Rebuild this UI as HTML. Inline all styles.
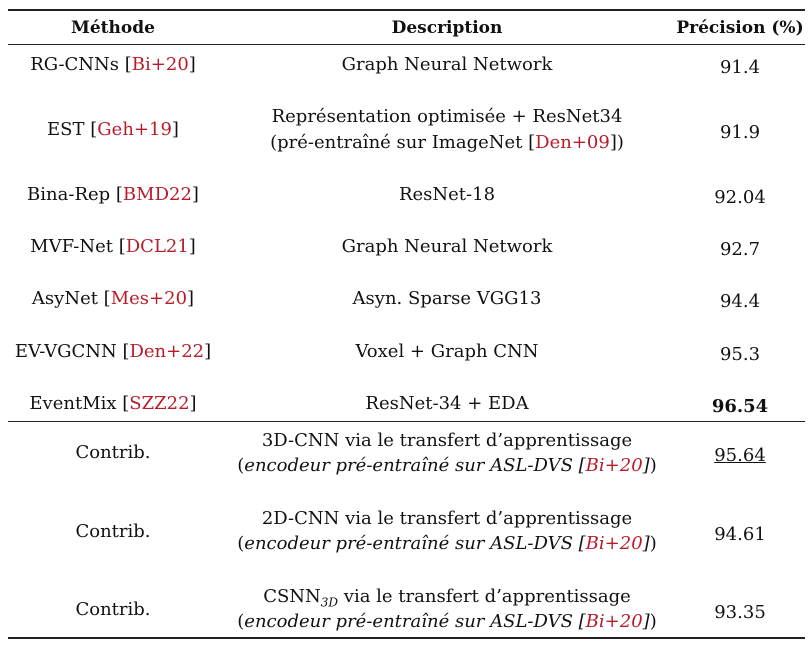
<!DOCTYPE html>
<html><head><meta charset="utf-8">
<style>
body{margin:0;width:808px;height:647px;background:#fff;position:relative;overflow:hidden;font-family:"DejaVu Serif","Liberation Serif",serif;font-size:18px;color:#111}
.t{position:absolute;width:560px;text-align:center;line-height:22px;white-space:nowrap}
.c1{left:-167px}.c2{left:167px}.c3{left:460px}
.r{color:#b71c2b}
.rule{position:absolute;left:8px;width:797px;background:#222}
b{font-weight:bold}
.h{font-size:17px}
</style></head><body>
<div class="rule" style="top:9px;height:2px"></div>
<div class="rule" style="top:44px;height:1px"></div>
<div class="rule" style="top:421px;height:1px"></div>
<div class="rule" style="top:637px;height:2px"></div>

<div class="t c1 h" style="top:17px"><b>Méthode</b></div>
<div class="t c2 h" style="top:17px"><b>Description</b></div>
<div class="t c3 h" style="top:17px"><b>Précision (%)</b></div>

<div class="t c1" style="top:54px">RG-CNNs [<span class="r">Bi+20</span>]</div>
<div class="t c2" style="top:54px">Graph Neural Network</div>
<div class="t c3" style="top:57px">91.4</div>

<div class="t c1" style="top:119px">EST [<span class="r">Geh+19</span>]</div>
<div class="t c2" style="top:106px">Représentation optimisée + ResNet34</div>
<div class="t c2" style="top:132px">(pré-entraîné sur ImageNet [<span class="r">Den+09</span>])</div>
<div class="t c3" style="top:122px">91.9</div>

<div class="t c1" style="top:184px">Bina-Rep [<span class="r">BMD22</span>]</div>
<div class="t c2" style="top:184px">ResNet-18</div>
<div class="t c3" style="top:187px">92.04</div>

<div class="t c1" style="top:236px">MVF-Net [<span class="r">DCL21</span>]</div>
<div class="t c2" style="top:236px">Graph Neural Network</div>
<div class="t c3" style="top:239px">92.7</div>

<div class="t c1" style="top:288px">AsyNet [<span class="r">Mes+20</span>]</div>
<div class="t c2" style="top:288px">Asyn. Sparse VGG13</div>
<div class="t c3" style="top:291px">94.4</div>

<div class="t c1" style="top:341px">EV-VGCNN [<span class="r">Den+22</span>]</div>
<div class="t c2" style="top:341px">Voxel + Graph CNN</div>
<div class="t c3" style="top:344px">95.3</div>

<div class="t c1" style="top:393px">EventMix [<span class="r">SZZ22</span>]</div>
<div class="t c2" style="top:393px">ResNet-34 + EDA</div>
<div class="t c3" style="top:396px"><b>96.54</b></div>

<div class="t c1" style="top:442px">Contrib.</div>
<div class="t c2" style="top:430px">3D-CNN via le transfert d’apprentissage</div>
<div class="t c2" style="top:455px">(<i>encodeur pré-entraîné sur ASL-DVS [<span class="r">Bi+20</span>]</i>)</div>
<div class="t c3" style="top:445px"><u>95.64</u></div>

<div class="t c1" style="top:521px">Contrib.</div>
<div class="t c2" style="top:508px">2D-CNN via le transfert d’apprentissage</div>
<div class="t c2" style="top:533px">(<i>encodeur pré-entraîné sur ASL-DVS [<span class="r">Bi+20</span>]</i>)</div>
<div class="t c3" style="top:524px">94.61</div>

<div class="t c1" style="top:599px">Contrib.</div>
<div class="t c2" style="top:586px">CSNN<sub style="font-size:12px;line-height:0"><i>3D</i></sub> via le transfert d’apprentissage</div>
<div class="t c2" style="top:611px">(<i>encodeur pré-entraîné sur ASL-DVS [<span class="r">Bi+20</span>]</i>)</div>
<div class="t c3" style="top:602px">93.35</div>
</body></html>
